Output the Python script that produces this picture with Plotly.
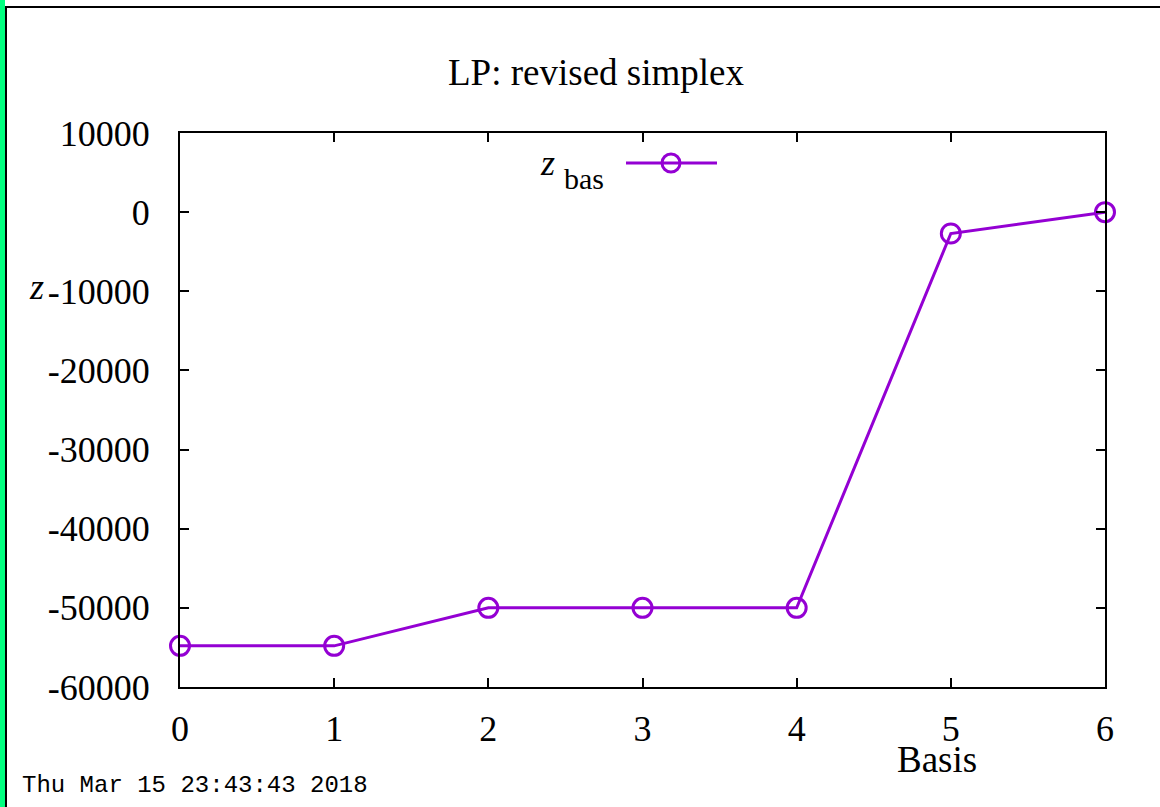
import plotly.graph_objects as go

# Data
basis = [0, 1, 2, 3, 4, 5, 6]
z_bas = [-54800, -54800, -50000, -50000, -50000, -2700, 0]
x_ticks = [0, 1, 2, 3, 4, 5, 6]
y_ticks = [10000, 0, -10000, -20000, -30000, -40000, -50000, -60000]

W, H = 1160, 807
L, R, T, B = 180, 55, 133, 120
PW, PH = W - L - R, H - T - B
PURPLE = "#9400D3"
SERIF = "Liberation Serif"


def px(x):
    return (x - L) / PW


def py(y):
    return (H - B - y) / PH


fig = go.Figure()
fig.add_trace(go.Scatter(
    x=basis, y=z_bas, mode="lines+markers",
    line=dict(color=PURPLE, width=3),
    marker=dict(symbol="circle-open", size=19, color=PURPLE, line=dict(width=3, color=PURPLE)),
    cliponaxis=False, showlegend=False,
))

axis_common = dict(
    showline=True, linecolor="black", linewidth=2, mirror="ticks",
    ticks="inside", ticklen=9, tickwidth=1.5, tickcolor="black",
    showgrid=False, zeroline=False,
    tickfont=dict(family=SERIF, size=36, color="black"),
)

fig.update_xaxes(range=[0, 6], tickvals=x_ticks, ticklabelstandoff=9, **axis_common)
fig.update_yaxes(range=[-60000, 10000], tickvals=y_ticks, ticktext=[str(v) for v in y_ticks],
                 ticklabelstandoff=21, **axis_common)

shapes = [
    # green left stripe and black frame edges
    dict(type="rect", xref="paper", yref="paper", x0=px(0), x1=px(5), y0=py(H), y1=py(0),
         fillcolor="#00FF7F", line=dict(width=0)),
    dict(type="line", xref="paper", yref="paper", x0=px(6), x1=px(6), y0=py(H), y1=py(6),
         line=dict(color="black", width=2)),
    dict(type="line", xref="paper", yref="paper", x0=px(5), x1=px(W), y0=py(7), y1=py(7),
         line=dict(color="black", width=2)),
    # legend sample
    dict(type="line", xref="paper", yref="paper", x0=px(626), x1=px(717), y0=py(163), y1=py(163),
         line=dict(color=PURPLE, width=3)),
    dict(type="circle", xref="paper", yref="paper", xsizemode="pixel", ysizemode="pixel",
         xanchor=px(671), yanchor=py(163), x0=-9, x1=9, y0=-9, y1=9,
         line=dict(color=PURPLE, width=3)),
]

annotations = [
    dict(text="LP: revised simplex", x=px(596), y=py(72), xref="paper", yref="paper",
         showarrow=False, font=dict(family=SERIF, size=37, color="black"),
         xanchor="center", yanchor="middle"),
    dict(text="<i>z</i>", x=px(36), y=py(287), xref="paper", yref="paper",
         showarrow=False, font=dict(family=SERIF, size=36, color="black"),
         xanchor="center", yanchor="middle"),
    dict(text="Basis", x=px(937), y=py(759), xref="paper", yref="paper",
         showarrow=False, font=dict(family=SERIF, size=37, color="black"),
         xanchor="center", yanchor="middle"),
    dict(text="<i>z</i>", x=px(547), y=py(163), xref="paper", yref="paper",
         showarrow=False, font=dict(family=SERIF, size=36, color="black"),
         xanchor="center", yanchor="middle"),
    dict(text="bas", x=px(584), y=py(178), xref="paper", yref="paper",
         showarrow=False, font=dict(family=SERIF, size=30, color="black"),
         xanchor="center", yanchor="middle"),
    dict(text="Thu Mar 15 23:43:43 2018", x=px(20), y=py(785), xref="paper", yref="paper",
         showarrow=False, font=dict(family="Liberation Mono", size=24, color="black"),
         xanchor="left", yanchor="middle"),
]

fig.update_layout(
    width=W, height=H,
    margin=dict(l=L, r=R, t=T, b=B, autoexpand=False),
    paper_bgcolor="white", plot_bgcolor="white",
    shapes=shapes, annotations=annotations, showlegend=False,
)

fig.write_html("out.html", config={"displayModeBar": False},
               post_script="document.body.style.margin='0';document.body.style.padding='0';")
